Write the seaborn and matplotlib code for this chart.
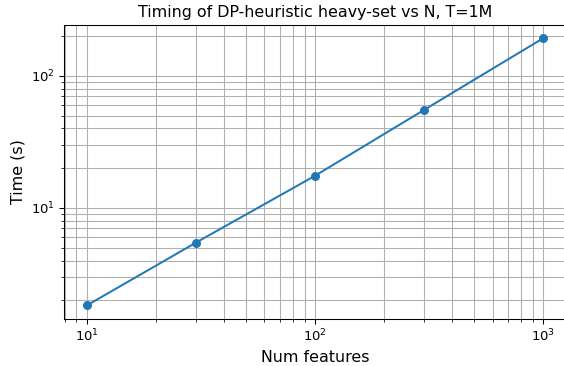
import matplotlib
matplotlib.use("Agg")
import matplotlib.pyplot as plt
import seaborn as sns
import pandas as pd

# Runtime measurements of the DP-heuristic heavy-set solver
num_features = [10, 30, 100, 300, 1000]
time_s = [1.83, 5.45, 17.5, 55.0, 192.0]

df = pd.DataFrame({"Num features": num_features, "Time (s)": time_s})

DPI = 95
fig = plt.figure(figsize=(564 / DPI, 366 / DPI), dpi=DPI)
ax = fig.add_axes([0.1135, 0.129, 0.890, 0.803])

sns.lineplot(data=df, x="Num features", y="Time (s)", ax=ax,
             marker="o", color="#1f77b4", markersize=6,
             markeredgecolor="#1f77b4", linewidth=1.5)

ax.set_xscale("log")
ax.set_yscale("log")
ax.grid(True, which="both", color="#b0b0b0", linewidth=0.8)
ax.set_title("Timing of DP-heuristic heavy-set vs N, T=1M", fontsize=12)
ax.set_xlabel("Num features", fontsize=12)
ax.set_ylabel("Time (s)", fontsize=12)
ax.tick_params(labelsize=10)

fig.savefig("out.png", dpi=DPI)
